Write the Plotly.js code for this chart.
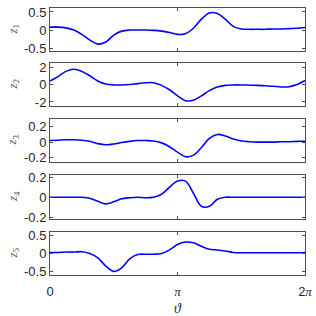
<!DOCTYPE html>
<html><head><meta charset="utf-8">
<script src="https://cdn.plot.ly/plotly-3.0.1.min.js"></script>
<style>html,body{margin:0;padding:0;background:#fff}#chart{width:316px;height:316px}</style>
</head><body><div id="chart"></div>
<script>
// theta samples in units of pi/16 (0 .. 32)
const thetaSteps = [0,1,2,3,4,5,6,7,8,9,10,11,12,13,14,15,16,17,18,19,20,21,22,23,24,25,26,27,28,29,30,31,32];
const z1 = [0.08,0.08,0.06,0.0,-0.12,-0.28,-0.39,-0.33,-0.14,-0.03,0.0,0.0,0.0,-0.01,-0.03,-0.07,-0.12,-0.1,0.05,0.3,0.47,0.46,0.3,0.1,0.03,0.02,0.02,0.02,0.03,0.03,0.04,0.05,0.07];
const z2 = [0.4,0.9,1.5,1.75,1.5,1.0,0.4,0.05,-0.05,-0.05,0.0,0.1,0.2,0.2,-0.1,-0.6,-1.3,-1.85,-1.8,-1.3,-0.7,-0.3,-0.1,-0.05,-0.05,-0.08,-0.1,-0.15,-0.2,-0.28,-0.25,0.0,0.45];
const z3 = [0.02,0.025,0.03,0.03,0.025,0.01,-0.02,-0.035,-0.025,-0.005,0.01,0.02,0.02,0.015,-0.01,-0.06,-0.13,-0.19,-0.17,-0.07,0.05,0.1,0.08,0.04,0.015,0.005,0.0,0.0,0.0,0.005,0.005,0.01,0.01];
const z4 = [0.0,0.0,0.0,0.0,0.0,-0.01,-0.04,-0.065,-0.045,-0.015,-0.005,0.0,-0.005,0.0,0.03,0.1,0.16,0.16,0.04,-0.09,-0.09,-0.02,0.0,0.0,0.0,0.0,0.0,0.0,0.0,0.0,0.0,0.0,0.0];
const z5 = [0.03,0.03,0.04,0.04,0.05,0.0,-0.12,-0.35,-0.5,-0.4,-0.15,-0.03,-0.02,-0.02,0.0,0.1,0.25,0.32,0.3,0.2,0.12,0.1,0.07,0.03,0.02,0.02,0.02,0.02,0.02,0.02,0.02,0.02,0.03];
const series = [z1,z2,z3,z4,z5];
const seriesNames = ['z1','z2','z3','z4','z5'];
const yLabels = ['<i>z</i><sub>1</sub>','<i>z</i><sub>2</sub>','<i>z</i><sub>3</sub>','<i>z</i><sub>4</sub>','<i>z</i><sub>5</sub>'];
const yRanges = [[-0.58,0.61],[-2.46,2.46],[-0.26,0.3],[-0.215,0.22],[-0.6,0.6]];
const yTickVals = [[-0.5,0,0.5],[-2,0,2],[-0.2,0,0.2],[-0.2,0,0.2],[-0.5,0,0.5]];
const yTickText = [['-0.5','0','0.5'],['-2','0','2'],['-0.2','0','0.2'],['-0.2','0','0.2'],['-0.5','0','0.5']];
const xTickVals = [0, Math.PI, 2*Math.PI];
const xTickText = ['0','<span style="font-family:Liberation Serif"><i>π</i></span>','2<span style="font-family:Liberation Serif"><i>π</i></span>'];

const theta = thetaSteps.map(s => s*Math.PI/16);
// domains from top to bottom
const domains = [[0.839,1.0],[0.633,0.794],[0.423,0.584],[0.2097,0.3745],[0,0.161]];
const axColor = '#4d4d4d';
const tickFont = {family:'Liberation Sans, Arial, sans-serif', size:13, color:'#262626'};

const data = [];
const layout = {
  width:316, height:316,
  margin:{l:50, r:11, t:8, b:41},
  paper_bgcolor:'#fff', plot_bgcolor:'#fff',
  showlegend:false,
  annotations:[]
};
for (let i=0;i<5;i++){
  const xa = i===4 ? 'x' : 'x'+(5-i);
  const ya = i===4 ? 'y' : 'y'+(5-i);
  const xkey = i===4 ? 'xaxis' : 'xaxis'+(5-i);
  const ykey = i===4 ? 'yaxis' : 'yaxis'+(5-i);
  data.push({x:theta, y:series[i], name:seriesNames[i], type:'scatter', mode:'lines',
    line:{color:'#0000ff', width:1.6, shape:'spline', smoothing:1}, xaxis:xa, yaxis:ya, hoverinfo:'skip'});
  layout[xkey] = {
    domain:[0,1], anchor:ya, range:[0,2*Math.PI],
    tickvals:xTickVals, ticktext:xTickText, showticklabels: i===4,
    ticks:'inside', ticklen:3, tickcolor:axColor, tickwidth:1,
    showline:true, linecolor:axColor, linewidth:1, mirror:'ticks',
    showgrid:false, zeroline:false, tickfont:tickFont
  };
  layout[ykey] = {
    domain:domains[i], anchor:xa, range:yRanges[i],
    tickvals:yTickVals[i], ticktext:yTickText[i],
    ticks:'inside', ticklen:3, tickcolor:axColor, tickwidth:1,
    showline:true, linecolor:axColor, linewidth:1, mirror:'ticks',
    showgrid:false, zeroline:false, tickfont:tickFont
  };
  layout.annotations.push({
    text:yLabels[i], xref:'paper', yref:'paper', x:-0.145, y:(domains[i][0]+domains[i][1])/2,
    xanchor:'center', yanchor:'middle', textangle:-90, showarrow:false,
    font:{family:'Liberation Serif, Times New Roman, serif', size:13, color:'#555'}
  });
}
layout.xaxis.ticklabelstandoff = 4;
layout.xaxis.title = {text:'<i>ϑ</i>', font:{family:'Liberation Serif, Times New Roman, serif', size:14, color:'#262626'}, standoff:9};
Plotly.newPlot('chart', data, layout, {staticPlot:true, displayModeBar:false});
</script></body></html>
